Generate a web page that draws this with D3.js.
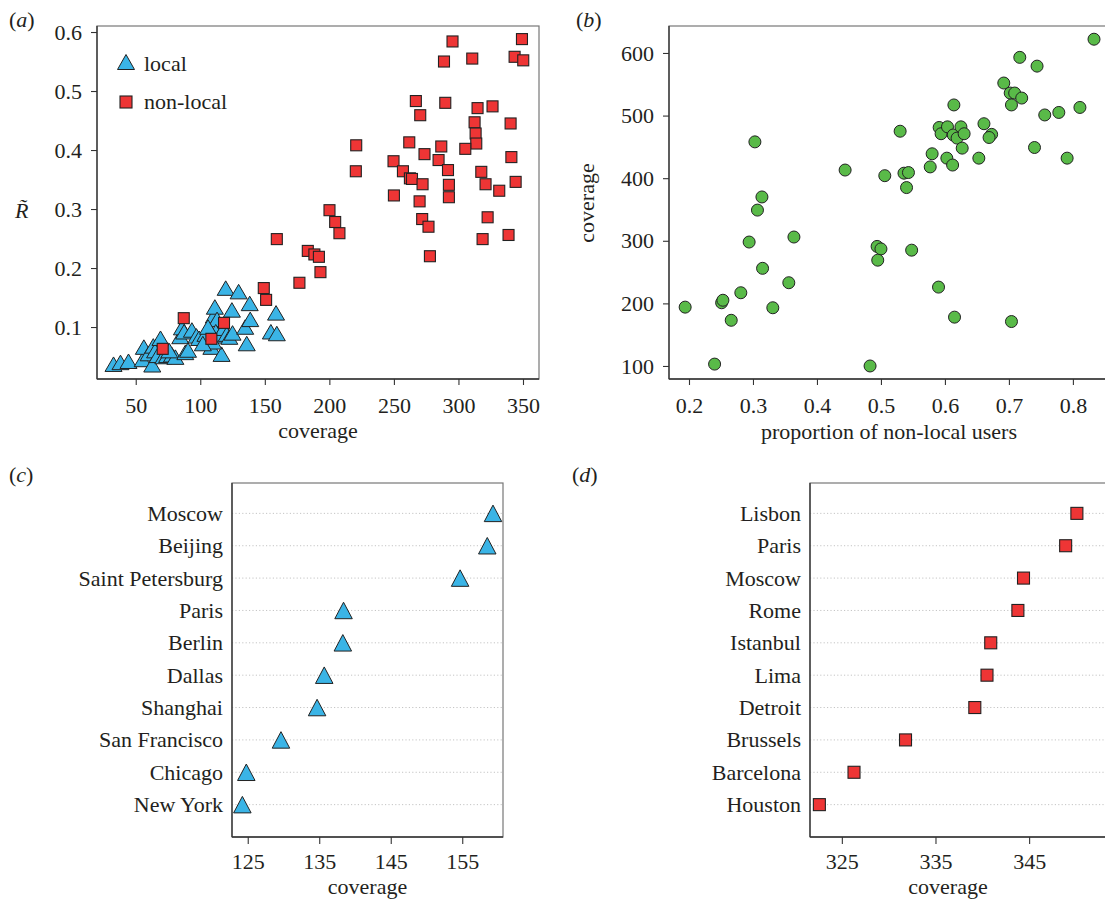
<!DOCTYPE html>
<html>
<head>
<meta charset="utf-8">
<script src="https://cdn.jsdelivr.net/npm/d3@7"></script>
<style>
  body { margin: 0; background: #fff; }
  svg text { font-family: "Liberation Serif", "Times New Roman", serif; fill: #231f20; }
</style>
</head>
<body>
<svg id="chart" width="1105" height="900"></svg>
<script>
// ---- panel (a): R-tilde vs coverage
let localCoverage = [32.8, 38.2, 44.4, 55.4, 56.3, 60, 62.8, 63.6, 65, 69.2, 67, 71.4, 74.3, 78.1, 80.7,
  84.5, 85.8, 87.5, 88.4, 90.5, 93.5, 97, 99.1, 104, 108.6, 110.5, 111.3, 113, 112, 115, 116.5, 118.2,
  119.7, 120.5, 122.5, 124.5, 125, 129.7, 134.8, 136, 138.3, 138.7, 154.7, 158.7, 159.3, 106, 110, 76, 102];
let localR = [0.037, 0.040, 0.042, 0.045, 0.066, 0.055, 0.036, 0.068, 0.060, 0.081, 0.052, 0.050, 0.052, 0.053, 0.049,
  0.084, 0.099, 0.092, 0.057, 0.061, 0.095, 0.085, 0.081, 0.088, 0.066, 0.119, 0.134, 0.113, 0.092, 0.085, 0.054, 0.098,
  0.166, 0.088, 0.083, 0.129, 0.090, 0.160, 0.100, 0.072, 0.140, 0.113, 0.092, 0.124, 0.089, 0.100, 0.075, 0.060, 0.072];

let nonlocalCoverage = [295.4, 349.2, 288.8, 310.7, 343.5, 350.2, 267, 289.8, 314.8, 326.4, 270.4, 312.5, 340.4,
  313.3, 313.8, 220.8, 261.9, 286.7, 305.3, 273.7, 284.6, 341, 249.7, 257, 220.5, 291.9, 317.7, 262.4, 264,
  272.2, 292.6, 321, 344.3, 331.6, 250, 269.9, 292.6, 200.1, 204.5, 207.8, 271.9, 276.8, 322.6, 159.3, 277.9,
  318.7, 338.8, 183.3, 188.4, 191.9, 193.1, 176.8, 149.2, 151, 87.2, 118.4, 108.6, 70.9];
let nonlocalR = [0.584, 0.588, 0.550, 0.555, 0.558, 0.552, 0.483, 0.480, 0.471, 0.474, 0.459, 0.447, 0.445,
  0.428, 0.411, 0.408, 0.413, 0.406, 0.402, 0.393, 0.383, 0.388, 0.381, 0.364, 0.364, 0.366, 0.363, 0.352, 0.351,
  0.342, 0.341, 0.342, 0.346, 0.331, 0.323, 0.313, 0.320, 0.298, 0.278, 0.259, 0.283, 0.270, 0.286, 0.249, 0.220,
  0.249, 0.256, 0.229, 0.223, 0.219, 0.193, 0.175, 0.166, 0.146, 0.115, 0.107, 0.080, 0.063];

let ticksAX = [50, 100, 150, 200, 250, 300, 350];
let ticksAY = [0.1, 0.2, 0.3, 0.4, 0.5, 0.6];

// ---- panel (b): coverage vs proportion of non-local users
let propNonLocal = [0.303, 0.314, 0.307, 0.444, 0.506, 0.530, 0.536, 0.543, 0.540, 0.577, 0.580, 0.591, 0.594,
  0.604, 0.603, 0.612, 0.614, 0.613, 0.619, 0.625, 0.630, 0.627, 0.653, 0.661, 0.673, 0.669, 0.692, 0.702, 0.709,
  0.720, 0.704, 0.717, 0.744, 0.740, 0.756, 0.778, 0.791, 0.811, 0.833,
  0.194, 0.240, 0.251, 0.253, 0.266, 0.281, 0.294, 0.315, 0.331, 0.356, 0.364,
  0.494, 0.500, 0.495, 0.548, 0.590, 0.615, 0.704, 0.483];
let coverageB = [458, 370, 349, 413, 404, 475, 408, 409, 385, 418, 439, 481, 471,
  482, 432, 421, 517, 469, 464, 482, 471, 448, 432, 487, 470, 465, 552, 536, 536,
  528, 517, 593, 579, 449, 501, 505, 432, 513, 622,
  194, 103, 201, 205, 173, 217, 298, 256, 193, 233, 306,
  291, 287, 269, 285, 226, 178, 171, 100];

let ticksBX = [0.2, 0.3, 0.4, 0.5, 0.6, 0.7, 0.8];
let ticksBY = [100, 200, 300, 400, 500, 600];

// ---- panel (c): top local cities
let citiesC = ["Moscow", "Beijing", "Saint Petersburg", "Paris", "Berlin", "Dallas", "Shanghai",
  "San Francisco", "Chicago", "New York"];
let coverageC = [159.3, 158.5, 154.7, 138.4, 138.3, 135.7, 134.7, 129.65, 124.8, 124.25];
let ticksC = [125, 135, 145, 155];

// ---- panel (d): top non-local cities
let citiesD = ["Lisbon", "Paris", "Moscow", "Rome", "Istanbul", "Lima", "Detroit", "Brussels",
  "Barcelona", "Houston"];
let coverageD = [350.1, 348.9, 344.4, 343.8, 340.9, 340.5, 339.2, 331.8, 326.3, 322.6];
let ticksD = [325, 335, 345];

let blue = "#3ab4e6", red = "#ee3535", green = "#59ba48", edge = "#222";
let fs = 22;

let svg = d3.select("#chart");

function triPath(w, h) {
  return "M0," + (-h / 2) + "L" + (w / 2) + "," + (h / 2) + "L" + (-w / 2) + "," + (h / 2) + "Z";
}

// box around a panel, plus a styled axis call
function frame(l, t, r, b) {
  svg.append("rect").attr("x", l).attr("y", t).attr("width", r - l).attr("height", b - t)
    .attr("fill", "none").attr("stroke", "#777").attr("stroke-width", 1.2);
  svg.append("line").attr("x1", l).attr("x2", l).attr("y1", t).attr("y2", b)
    .attr("stroke", "#333").attr("stroke-width", 1.3);
  svg.append("line").attr("x1", l).attr("x2", r).attr("y1", b).attr("y2", b)
    .attr("stroke", "#333").attr("stroke-width", 1.3);
}

function styleAxis(g) {
  g.select(".domain").remove();
  g.selectAll(".tick line").attr("stroke", "#333").attr("stroke-width", 1.1);
  g.selectAll(".tick text").style("font-size", fs + "px").attr("fill", "#231f20");
}

function panelLabel(letter, x, y) {
  let t = svg.append("text").attr("x", x).attr("y", y).style("font-size", fs + "px");
  t.append("tspan").text("(");
  t.append("tspan").style("font-style", "italic").text(letter);
  t.append("tspan").text(")");
}

// ================= (a)
let ax = d3.scaleLinear().domain([20, 362.4]).range([97, 539]);
let ay = d3.scaleLinear().domain([0.0119, 0.6102]).range([379, 26]);

frame(97, 26, 539, 379);
svg.append("g").attr("transform", "translate(0,379)")
  .call(d3.axisBottom(ax).tickValues(ticksAX).tickSize(6).tickPadding(12)).call(styleAxis);
svg.append("g").attr("transform", "translate(97,0)")
  .call(d3.axisLeft(ay).tickValues(ticksAY).tickFormat(d3.format(".1f")).tickSize(6).tickPadding(9)).call(styleAxis);

svg.append("g").selectAll("path").data(localCoverage).enter().append("path")
  .attr("d", triPath(17, 14.5))
  .attr("transform", function (d, i) { return "translate(" + ax(d) + "," + ay(localR[i]) + ")"; })
  .attr("fill", blue).attr("stroke", edge).attr("stroke-width", 1);

svg.append("g").selectAll("rect").data(nonlocalCoverage).enter().append("rect")
  .attr("x", function (d) { return ax(d) - 5.5; })
  .attr("y", function (d, i) { return ay(nonlocalR[i]) - 5.5; })
  .attr("width", 11).attr("height", 11)
  .attr("fill", red).attr("stroke", edge).attr("stroke-width", 1.1);

// legend
svg.append("path").attr("d", triPath(17, 15)).attr("transform", "translate(126,62)")
  .attr("fill", blue).attr("stroke", edge).attr("stroke-width", 1);
svg.append("text").attr("x", 144).attr("y", 71).style("font-size", fs + "px").text("local");
svg.append("rect").attr("x", 120).attr("y", 96).attr("width", 12).attr("height", 12)
  .attr("fill", red).attr("stroke", edge).attr("stroke-width", 1.1);
svg.append("text").attr("x", 144).attr("y", 109).style("font-size", fs + "px").text("non-local");

svg.append("text").attr("x", 318).attr("y", 438).attr("text-anchor", "middle")
  .style("font-size", fs + "px").text("coverage");
svg.append("text").attr("x", 15).attr("y", 218).style("font-size", fs + "px")
  .style("font-style", "italic").text("R\u0303");
panelLabel("a", 9, 27);

// ================= (b)
let bx = d3.scaleLinear().domain([0.16875, 0.858]).range([669, 1110]);
let by = d3.scaleLinear().domain([79.2, 643.1]).range([379, 26]);

frame(669, 26, 1110, 379);
svg.append("g").attr("transform", "translate(0,379)")
  .call(d3.axisBottom(bx).tickValues(ticksBX).tickFormat(d3.format(".1f")).tickSize(6).tickPadding(12)).call(styleAxis);
svg.append("g").attr("transform", "translate(669,0)")
  .call(d3.axisLeft(by).tickValues(ticksBY).tickSize(6).tickPadding(9)).call(styleAxis);

svg.append("g").selectAll("circle").data(propNonLocal).enter().append("circle")
  .attr("cx", function (d) { return bx(d); })
  .attr("cy", function (d, i) { return by(coverageB[i]); })
  .attr("r", 6)
  .attr("fill", green).attr("stroke", edge).attr("stroke-width", 1);

svg.append("text").attr("x", 889).attr("y", 439).attr("text-anchor", "middle")
  .style("font-size", fs + "px").text("proportion of non-local users");
svg.append("text").attr("transform", "translate(594,203) rotate(-90)").attr("text-anchor", "middle")
  .style("font-size", fs + "px").text("coverage");
panelLabel("b", 576, 27);

// ================= (c) and (d) dot charts
function dotPanel(cities, values, ticks, l, r, domain, labelX, marker) {
  let x = d3.scaleLinear().domain(domain).range([l, r]);
  let y = d3.scalePoint().domain(cities).range([481, 837]).padding(1);

  svg.append("g").selectAll("line").data(cities).enter().append("line")
    .attr("x1", l).attr("x2", r)
    .attr("y1", function (d) { return y(d); }).attr("y2", function (d) { return y(d); })
    .attr("stroke", "#c4c4c4").attr("stroke-width", 1).attr("stroke-dasharray", "1.2,2.2");

  frame(l, 483, r, 837);
  svg.append("g").attr("transform", "translate(0,837)")
    .call(d3.axisBottom(x).tickValues(ticks).tickSize(7).tickPadding(9)).call(styleAxis);
  svg.append("g").attr("transform", "translate(" + l + ",0)")
    .call(d3.axisLeft(y).tickSize(0).tickPadding(9)).call(styleAxis);

  if (marker === "tri") {
    svg.append("g").selectAll("path").data(values).enter().append("path")
      .attr("d", triPath(17.5, 16.5))
      .attr("transform", function (d, i) { return "translate(" + x(d) + "," + y(cities[i]) + ")"; })
      .attr("fill", blue).attr("stroke", edge).attr("stroke-width", 1);
  } else {
    svg.append("g").selectAll("rect").data(values).enter().append("rect")
      .attr("x", function (d) { return x(d) - 6; })
      .attr("y", function (d, i) { return y(cities[i]) - 6; })
      .attr("width", 12).attr("height", 12)
      .attr("fill", red).attr("stroke", edge).attr("stroke-width", 1.1);
  }

  svg.append("text").attr("x", labelX).attr("y", 894).attr("text-anchor", "middle")
    .style("font-size", fs + "px").text("coverage");
}

dotPanel(citiesC, coverageC, ticksC, 232, 503, [122.8, 160.7], 367.5, "tri");
panelLabel("c", 9, 482);

dotPanel(citiesD, coverageD, ticksD, 810, 1112, [321.6, 353.85], 948, "sq");
panelLabel("d", 572, 482);
</script>
</body>
</html>
